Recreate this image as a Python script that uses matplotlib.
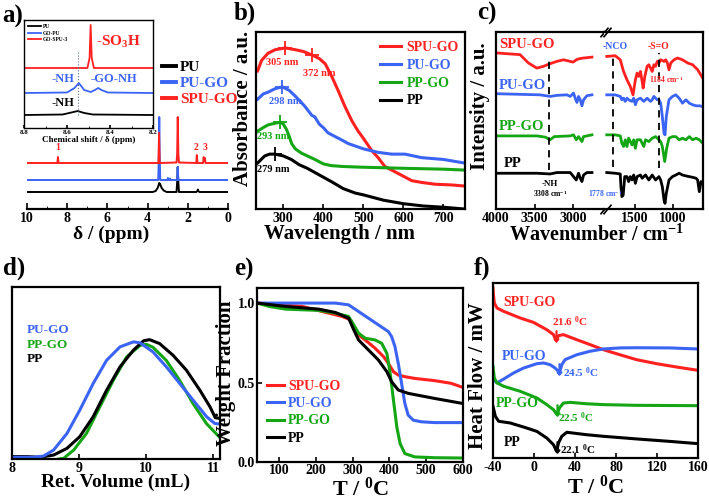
#!/usr/bin/env python3
"""
Six-panel characterisation figure: NMR, UV-vis, FTIR, GPC, TGA, DSC
Output: out.png
"""

import matplotlib
matplotlib.use("Agg")
import matplotlib.pyplot as plt

# =====================================
# Style
# =====================================
plt.rcParams['font.family'] = ['Liberation Serif', 'DejaVu Serif']
plt.rcParams['font.weight'] = 'bold'
plt.rcParams['axes.labelweight'] = 'bold'
plt.rcParams['axes.unicode_minus'] = False
plt.rcParams['mathtext.fontset'] = 'custom'
plt.rcParams['mathtext.rm'] = 'Liberation Serif:bold'
plt.rcParams['mathtext.bf'] = 'Liberation Serif:bold'
plt.rcParams['mathtext.it'] = 'Liberation Serif:bold'
plt.rcParams['mathtext.default'] = 'bf'
plt.rcParams['axes.linewidth'] = 1.6
plt.rcParams['xtick.direction'] = 'in'
plt.rcParams['ytick.direction'] = 'in'
plt.rcParams['xtick.major.width'] = 1.2
plt.rcParams['ytick.major.width'] = 1.2

RED = '#ff2020'
BLUE = '#3b64f4'
GREEN = '#14a614'
BLACK = '#000000'

# =====================================
# Data
# =====================================
# a) 1H NMR (main)
PU_PPM = [10.0, 3.75, 3.6, 3.5, 3.45, 3.42, 3.38, 3.3, 3.2, 3.05, 2.56, 2.52, 2.50, 2.48, 2.44,
          1.58, 1.52, 1.50, 1.48, 1.42, 0.0]
PU_INT = [17, 17, 18, 21, 24, 26, 25, 21, 18.5, 17, 17, 30, 42, 30, 17, 17, 18, 19.5, 18, 17, 17]
PUGO_PPM = [10.0, 3.47, 3.44, 3.42, 3.40, 3.37, 3.02, 2.99, 2.96, 2.92, 2.89, 2.86,
            2.53, 2.50, 2.47, 0.0]
PUGO_INT = [29, 29, 55, 92, 55, 29, 29, 31, 29, 29, 30.5, 29, 29, 42, 29, 29]
SPU_PPM = [10.0, 8.49, 8.46, 8.43, 3.46, 3.43, 3.40, 2.56, 2.53, 2.50, 2.47, 2.44,
           1.58, 1.55, 1.52, 1.24, 1.21, 1.18, 1.15, 1.12, 0.0]
SPU_INT = [46, 46, 52, 46, 46, 76, 46, 46.5, 55, 92, 55, 46.5, 46, 54, 46, 46, 52, 48, 51, 46, 46]
NMR_PEAK_PPM = [8.46, 1.57, 1.15]
NMR_PEAK_LBL = ['1', '2', '3']

# a) inset
IN_PU_PPM = [8.8, 8.62, 8.58, 8.55, 8.52, 8.48, 8.2]
IN_PU_INT = [13, 13.5, 15.5, 17, 15, 13.5, 13]
IN_PUGO_PPM = [8.8, 8.6, 8.565, 8.545, 8.52, 8.49, 8.47, 8.455, 8.44, 8.41, 8.2]
IN_PUGO_INT = [35, 35.5, 40, 45, 38, 36, 38, 40, 38, 35.5, 35]
IN_SPU_PPM = [8.8, 8.505, 8.495, 8.49, 8.485, 8.475, 8.2]
IN_SPU_INT = [60, 60, 70, 103, 70, 60, 60]

# b) UV-vis
UV_SPU_NM = [236, 246, 262, 280, 305, 330, 350, 372, 390, 405, 421, 437, 454, 471, 487, 500,
             521, 537, 554, 571, 596, 621, 646, 679, 720, 752]
UV_SPU_A = [0.78, 0.84, 0.88, 0.90, 0.91, 0.90, 0.89, 0.87, 0.85, 0.82, 0.75, 0.67, 0.58, 0.50,
            0.44, 0.40, 0.33, 0.29, 0.24, 0.22, 0.19, 0.16, 0.15, 0.14, 0.136, 0.13]
UV_PUGO_NM = [236, 250, 262, 280, 298, 315, 329, 346, 354, 371, 379, 390, 400, 412, 429, 446,
              462, 500, 537, 571, 604, 646, 700, 752]
UV_PUGO_A = [0.62, 0.65, 0.66, 0.68, 0.69, 0.67, 0.64, 0.60, 0.58, 0.53, 0.52, 0.48, 0.46, 0.43,
             0.41, 0.39, 0.37, 0.34, 0.32, 0.31, 0.31, 0.29, 0.28, 0.26]
UV_PPGO_NM = [236, 250, 262, 280, 293, 300, 308, 315, 321, 330, 346, 360, 379, 400, 420, 450,
              500, 600, 700, 752]
UV_PPGO_A = [0.44, 0.46, 0.475, 0.485, 0.49, 0.48, 0.45, 0.41, 0.37, 0.34, 0.315, 0.30, 0.28,
             0.255, 0.245, 0.24, 0.236, 0.23, 0.225, 0.22]
UV_PP_NM = [236, 254, 266, 279, 300, 320, 340, 360, 380, 400, 420, 450, 480, 500, 550, 600,
            650, 700, 752]
UV_PP_A = [0.26, 0.30, 0.31, 0.31, 0.30, 0.28, 0.25, 0.23, 0.205, 0.18, 0.155, 0.115, 0.09,
           0.08, 0.05, 0.03, 0.017, 0.01, 0.0]
UV_PEAKS = {'SPU-GO': [305, 372], 'PU-GO': [298], 'PP-GO': [293], 'PP': [279]}

# c) FTIR, left (4000-2600) and right (1900-610) segments
IR_SPU_L = [3970, 3688, 3580, 3471, 3385, 3298, 3211, 3125, 3000, 2951, 2908, 2865, 2756]
IR_SPU_LI = [88.1, 87.2, 82.5, 79.6, 80.6, 82.1, 83.4, 84.3, 83.0, 84.5, 85.0, 85.3, 85.8]
IR_SPU_R = [1864, 1754, 1688, 1645, 1601, 1557, 1522, 1491, 1469, 1447, 1425, 1403, 1390, 1368,
            1338, 1316, 1294, 1272, 1250, 1228, 1206, 1184, 1162, 1118, 1096, 1074, 1053, 1030,
            987, 943, 877, 811, 745, 680, 614]
IR_SPU_RI = [86.2, 86.6, 84.3, 77.7, 73.0, 69.2, 64.5, 73.0, 76.8, 74.9, 77.7, 72.1, 68.3, 74.9,
             80.6, 81.5, 79.6, 77.7, 81.5, 80.6, 83.4, 82.5, 84.3, 83.4, 84.3, 82.5, 78.7, 82.5,
             84.3, 85.3, 84.3, 82.5, 81.5, 78.7, 74.0]
IR_PUGO_L = [3970, 3430, 3298, 3211, 3081, 3038, 2995, 2973, 2951, 2930, 2908, 2886, 2865, 2821,
             2756]
IR_PUGO_LI = [65.1, 64.5, 63.6, 64.2, 64.5, 63.6, 65.5, 62.6, 60.2, 63.6, 61.7, 58.3, 61.7, 64.0,
              64.5]
IR_PUGO_R = [1864, 1754, 1688, 1667, 1645, 1623, 1601, 1579, 1535, 1513, 1491, 1469, 1425, 1382,
             1338, 1294, 1272, 1250, 1206, 1184, 1162, 1140, 1118, 1105, 1088, 1053, 1008, 964,
             921, 877, 833, 789, 745, 701, 658, 614]
IR_PUGO_RI = [64.5, 64.5, 63.6, 61.7, 62.6, 60.8, 62.6, 61.7, 60.8, 62.6, 58.9, 61.7, 62.6, 60.8,
              62.6, 60.8, 61.7, 63.6, 61.7, 61.7, 59.8, 52.3, 42.8, 41.9, 52.3, 61.7, 63.6, 64.5,
              62.6, 59.8, 61.7, 59.8, 58.9, 58.3, 58.3, 57.9]
IR_PPGO_L = [3970, 3471, 3360, 3298, 3245, 3038, 2995, 2960, 2930, 2886, 2865, 2756]
IR_PPGO_LI = [41.3, 41.3, 40.6, 39.1, 40.9, 41.3, 41.9, 39.1, 40.9, 38.1, 40.9, 41.9]
IR_PPGO_R = [1864, 1754, 1688, 1667, 1645, 1623, 1601, 1579, 1535, 1513, 1491, 1469, 1425, 1382,
             1359, 1316, 1272, 1228, 1184, 1162, 1140, 1109, 1083, 1053, 1008, 964, 921, 877, 833,
             789, 745, 701, 658, 614]
IR_PPGO_RI = [41.9, 41.9, 41.3, 37.2, 35.3, 39.1, 35.3, 40.0, 36.2, 39.1, 34.3, 39.1, 39.1, 35.3,
              39.1, 38.1, 40.0, 40.9, 39.1, 38.1, 35.3, 26.8, 34.3, 40.0, 40.9, 40.9, 39.1, 40.0,
              39.1, 40.9, 39.1, 40.0, 39.1, 37.2]
IR_PP_L = [3970, 3471, 3298, 3211, 3038, 2995, 2960, 2930, 2908, 2886, 2865, 2821, 2756]
IR_PP_LI = [20.2, 20.2, 19.8, 20.6, 20.6, 18.3, 16.4, 20.2, 17.4, 15.5, 19.2, 20.6, 20.6]
IR_PP_R = [1864, 1754, 1688, 1680, 1667, 1650, 1630, 1601, 1579, 1557, 1535, 1513, 1491, 1469,
           1425, 1403, 1359, 1316, 1272, 1228, 1184, 1162, 1140, 1118, 1105, 1088, 1053, 1008,
           964, 921, 877, 833, 789, 745, 701, 680, 658, 636, 614]
IR_PP_RI = [20.6, 20.2, 19.8, 13.0, 7.0, 7.9, 18.3, 18.3, 15.5, 18.3, 16.4, 19.2, 14.5, 18.3,
            19.2, 17.4, 19.2, 16.4, 19.2, 16.4, 18.3, 16.4, 12.6, 5.1, 3.2, 8.9, 16.4, 18.3, 19.2,
            20.2, 19.2, 18.7, 18.3, 17.9, 17.4, 16.4, 9.8, 15.5, 14.5]
IR_MARKS = [3308, 1778, 1184]

# d) GPC
GPC_PUGO_V = [8.0, 8.32, 8.47, 8.62, 8.82, 9.01, 9.21, 9.41, 9.61, 9.81, 9.91, 10.10, 10.30,
              10.50, 10.70, 10.90, 11.02, 11.10]
GPC_PUGO_S = [1.0, 1.0, 1.7, 5.2, 14.9, 28.4, 43.9, 57.4, 65.2, 68.1, 67.5, 62.3, 53.6, 43.9,
              34.2, 24.6, 20.7, 20.3]
GPC_PP_V = [8.0, 8.22, 8.42, 8.62, 8.82, 9.01, 9.21, 9.41, 9.61, 9.81, 9.96, 10.05, 10.20, 10.40,
            10.60, 10.80, 10.95, 11.03, 11.10]
GPC_PP_S = [1.4, 1.4, 1.0, 2.3, 6.2, 13.0, 24.6, 40.0, 53.6, 63.3, 68.7, 69.4, 67.1, 60.3, 51.6,
            40.0, 30.4, 24.0, 23.6]
GPC_PPGO_V = [8.7, 8.77, 8.92, 9.11, 9.31, 9.51, 9.71, 9.91, 10.00, 10.10, 10.30, 10.50, 10.70,
              10.90, 11.09]
GPC_PPGO_S = [0.0, 0.4, 5.2, 14.9, 30.4, 45.8, 59.4, 66.1, 66.7, 65.0, 57.3, 45.6, 32.1, 20.5,
              12.8]

# e) TGA
TGA_SPU_T = [41, 100, 163, 217, 271, 294, 303, 316, 334, 361, 384, 397, 411, 424, 442, 469, 523,
             568, 600]
TGA_SPU_W = [1.0, 0.989, 0.979, 0.947, 0.916, 0.895, 0.853, 0.8, 0.768, 0.716, 0.663, 0.621,
             0.568, 0.547, 0.537, 0.526, 0.512, 0.495, 0.469]
TGA_PUGO_T = [41, 253, 289, 316, 343, 370, 397, 406, 415, 424, 433, 442, 451, 465, 487, 523, 600]
TGA_PUGO_W = [1.0, 1.0, 0.989, 0.947, 0.905, 0.863, 0.821, 0.789, 0.726, 0.621, 0.495, 0.368,
              0.295, 0.263, 0.253, 0.248, 0.248]
TGA_PPGO_T = [41, 73, 118, 208, 253, 289, 303, 316, 334, 361, 379, 393, 402, 411, 420, 429, 442,
              469, 523, 600]
TGA_PPGO_W = [1.0, 0.979, 0.962, 0.954, 0.937, 0.916, 0.863, 0.811, 0.779, 0.768, 0.747, 0.684,
              0.558, 0.389, 0.221, 0.116, 0.053, 0.032, 0.027, 0.025]
TGA_PP_T = [41, 118, 208, 253, 289, 303, 316, 343, 370, 393, 406, 424, 451, 523, 600]
TGA_PP_W = [1.0, 0.979, 0.962, 0.941, 0.905, 0.832, 0.768, 0.705, 0.642, 0.568, 0.505, 0.453,
            0.432, 0.4, 0.368]

# f) DSC
DSC_SPU_T = [-40, -39.4, -38.7, -36.1, -29.6, -13.4, -0.5, 12.5, 19, 21.6, 23.9, 28.7, 41.7, 54.7,
             67.6, 83.8, 100, 119.5, 139, 160]
DSC_SPU_H = [97.1, 92.4, 88.6, 85.7, 83.8, 80, 77.5, 73.3, 70.5, 67.2, 69.9, 70.5, 67.6, 64.8,
             61.9, 59.0, 56.2, 53.9, 52, 50.1]
DSC_PUGO_T = [-40, -37.7, -36.1, -29.6, -19.9, -10.2, 2.8, 9.3, 15.8, 20.6, 23.9, 24.5, 27.1,
              30.3, 41.7, 54.7, 67.6, 83.8, 100, 132.4, 160]
DSC_PUGO_H = [45.7, 43.8, 42.9, 45.1, 48.6, 51.4, 53.9, 54.3, 53.3, 51.4, 49.5, 48.2, 53.3, 56.2,
              59, 61, 62.3, 62.9, 63, 62.9, 62.3]
DSC_PPGO_T = [-40, -38.7, -36.1, -29.6, -13.4, 2.8, 12.5, 19, 22.5, 24.8, 28.7, 35.2, 51.4, 67.6,
              100, 160]
DSC_PPGO_H = [52.4, 45.7, 42.9, 41, 38.1, 34.3, 30.5, 27.6, 24.8, 28.6, 31.4, 31.8, 31, 30.5,
              30.1, 29.9]
DSC_PP_T = [-40, -37.7, -34.5, -23.1, -6.9, 2.8, 12.5, 19, 22.1, 23.9, 27.1, 32, 51.4, 67.6, 100,
            132.4, 160]
DSC_PP_H = [29.5, 23.8, 21, 20, 17.1, 15.2, 11.4, 7.6, 3.8, 8.6, 12.4, 14.7, 13.3, 12.4, 10.9,
            9.5, 8.2]
DSC_TG = {'SPU-GO': 21.6, 'PU-GO': 24.5, 'PP-GO': 22.5, 'PP': 22.1}

# =====================================
# Figure
# =====================================
W, H = 709, 501
fig = plt.figure(figsize=(W / 100, H / 100), dpi=100)


def box(left, top, right, bottom):
    """axes from pixel edges of the reference"""
    return fig.add_axes([left / W, 1 - bottom / H, (right - left) / W, (bottom - top) / H])


LBL = 15
TCK = 10

# ---------- a) ----------
ax = box(27, 114, 228, 209)
ax.plot(PU_PPM, PU_INT, color=BLACK, lw=1.4, label='PU')
ax.plot(PUGO_PPM, PUGO_INT, color=BLUE, lw=1.4, label='PU-GO')
ax.plot(SPU_PPM, SPU_INT, color=RED, lw=1.4, label='SPU-GO')
for p, t in zip(NMR_PEAK_PPM, NMR_PEAK_LBL):
    ax.text(p, 57, t, color=RED, fontsize=7, ha='center', va='bottom')
ax.set_xlim(10, 0)
ax.set_ylim(0, 95)
for s in ['left', 'top', 'right']:
    ax.spines[s].set_visible(False)
ax.set_yticks([])
ax.set_xticks([10, 8, 6, 4, 2, 0])
ax.set_xticks([9, 7, 5, 3, 1], minor=True)
ax.tick_params(axis='x', which='major', length=4, labelsize=TCK, pad=2)
ax.tick_params(axis='x', which='minor', length=2)
ax.set_xlabel('δ / (ppm)', fontsize=14)
ax.xaxis.set_label_coords(0.42, -0.18)
leg = ax.legend(loc='upper left', bbox_to_anchor=(154 / W, 1 - 53 / H),
                bbox_transform=fig.transFigure, frameon=False, fontsize=11,
                handlelength=0.95, handletextpad=0.25, labelspacing=0.15,
                borderpad=0, labelcolor='linecolor')
for ln in leg.get_lines():
    ln.set_linewidth(2.8)

ins = box(24, 20, 153, 128)
ins.plot(IN_PU_PPM, IN_PU_INT, color=BLACK, lw=1.3, label='PU')
ins.plot(IN_PUGO_PPM, IN_PUGO_INT, color=BLUE, lw=1.3, label='GO-PU')
ins.plot(IN_SPU_PPM, IN_SPU_INT, color=RED, lw=1.3, label='GO-SPU-3')
ins.plot([8.55, 8.55], [13, 76], color='#5a6f9a', lw=0.8, ls=':')
ins.text(8.465, 86, '-SO$_3$H', color=RED, fontsize=11, ha='left', va='center')
ins.text(8.565, 49, '-NH', color=BLUE, fontsize=9, ha='right', va='center')
ins.text(8.49, 49, '-GO-NH', color=BLUE, fontsize=9, ha='left', va='center')
ins.text(8.565, 25, '-NH', color=BLACK, fontsize=9, ha='right', va='center')
ins.set_xlim(8.8, 8.2)
ins.set_ylim(0, 108)
ins.set_yticks([])
ins.set_xticks([8.8, 8.6, 8.4, 8.2])
ins.set_xticks([8.7, 8.5, 8.3], minor=True)
ins.tick_params(axis='x', which='major', length=2.5, labelsize=5, pad=1.5)
ins.tick_params(axis='x', which='minor', length=1.5)
for s in ins.spines.values():
    s.set_linewidth(1.0)
ins.set_xlabel('Chemical shift / δ (ppm)', fontsize=6.5, labelpad=1)
ins.legend(loc='upper left', frameon=False, fontsize=4, handlelength=2.2,
           handletextpad=0.4, labelspacing=0.2, borderpad=0.3)

# ---------- b) ----------
ax = box(256, 32, 465, 209)
uv = [('SPU-GO', UV_SPU_NM, UV_SPU_A, RED), ('PU-GO', UV_PUGO_NM, UV_PUGO_A, BLUE),
      ('PP-GO', UV_PPGO_NM, UV_PPGO_A, GREEN), ('PP', UV_PP_NM, UV_PP_A, BLACK)]
for name, x, y, c in uv:
    ax.plot(x, y, color=c, lw=2.2, label=name)
    for pk in UV_PEAKS[name]:
        ax.plot(pk, y[x.index(min(x, key=lambda v: abs(v - pk)))], marker='+', ms=10,
                mew=1.3, color=c)
ax.text(297, 0.83, '305 nm', color=RED, fontsize=7.5, ha='center', va='center')
ax.text(389, 0.765, '372 nm', color=RED, fontsize=7.5, ha='center', va='center')
ax.text(304, 0.61, '298 nm', color=BLUE, fontsize=7.5, ha='center', va='center')
ax.text(275, 0.41, '293 nm', color=GREEN, fontsize=7.5, ha='center', va='center')
ax.text(275, 0.225, '279 nm', color=BLACK, fontsize=7.5, ha='center', va='center')
ax.set_xlim(232, 754)
ax.set_ylim(0, 1)
ax.set_yticks([])
ax.set_xticks([300, 400, 500, 600, 700])
ax.tick_params(axis='x', length=3.5, labelsize=TCK, pad=2)
ax.set_xlabel('Wavelength / nm', fontsize=LBL)
ax.xaxis.set_label_coords(0.40, -0.085)
ax.set_ylabel('Absorbance / a.u.', fontsize=LBL)
ax.yaxis.set_label_coords(-0.014, 0.57)
ax.legend(loc='upper right', bbox_to_anchor=(0.97, 0.95), frameon=False, fontsize=10,
          handlelength=1.5, handletextpad=0.4, labelspacing=0.35, borderpad=0,
          borderaxespad=0, labelcolor='linecolor')

# ---------- c) ----------
axl = box(496, 32, 604, 209)
axr = box(604, 32, 703, 209)
ir = [(IR_SPU_L, IR_SPU_LI, IR_SPU_R, IR_SPU_RI, RED),
      (IR_PUGO_L, IR_PUGO_LI, IR_PUGO_R, IR_PUGO_RI, BLUE),
      (IR_PPGO_L, IR_PPGO_LI, IR_PPGO_R, IR_PPGO_RI, GREEN),
      (IR_PP_L, IR_PP_LI, IR_PP_R, IR_PP_RI, BLACK)]
for xl, yl, xr, yr, c in ir:
    axl.plot(xl, yl, color=c, lw=2.0)
    axr.plot(xr, yr, color=c, lw=2.0)
axl.plot([IR_MARKS[0]] * 2, [22.1, 84.3], color='k', lw=1.3, ls=(0, (4, 3)))
axr.plot([IR_MARKS[1]] * 2, [24.0, 87.2], color='k', lw=1.3, ls=(0, (4, 3)))
axr.plot([IR_MARKS[2]] * 2, [23.0, 88.1], color='k', lw=1.3, ls=(0, (4, 3)))
axl.set_xlim(4000, 2600)
axr.set_xlim(1900, 610)
for a in (axl, axr):
    a.set_ylim(0, 100)
    a.set_yticks([])
    a.tick_params(axis='x', length=3.5, labelsize=TCK, pad=2)
axl.set_xticks([4000, 3500, 3000])
axr.set_xticks([1500, 1000])
axl.spines['right'].set_visible(False)
axr.spines['left'].set_visible(False)
d = 0.6
kw = dict(marker=[(-1, -d * 2), (1, d * 2)], markersize=7, linestyle='none', color='k',
          mec='k', mew=1.2, clip_on=False)
axl.plot([1, 1], [0, 1], transform=axl.transAxes, **kw)
axr.plot([0.03, 0.03], [0, 1], transform=axr.transAxes, **kw)
axl.text(3960, 92.8, 'SPU-GO', color=RED, fontsize=10.5, ha='left', va='center')
axl.text(3960, 69.6, 'PU-GO', color=BLUE, fontsize=10.5, ha='left', va='center')
axl.text(3960, 46.6, 'PP-GO', color=GREEN, fontsize=10.5, ha='left', va='center')
axl.text(3900, 25.8, 'PP', color=BLACK, fontsize=10.5, ha='left', va='center')
axl.text(3300, 14.0, '-NH', color=BLACK, fontsize=6.5, ha='center', va='center')
axl.text(3300, 9.0, '3308 cm$^{-1}$', color=BLACK, fontsize=5.5, ha='center', va='center')
axr.text(1754, 91.9, '-NCO', color=BLUE, fontsize=7, ha='center', va='center')
axr.text(1184, 91.9, '-S=O', color=RED, fontsize=7, ha='center', va='center')
axr.text(1096, 73.0, '1184 cm$^{-1}$', color=RED, fontsize=5.5, ha='center', va='center')
axr.text(1886, 8.9, '1778 cm$^{-1}$', color=BLUE, fontsize=5.5, ha='center', va='center')
fig.text(597 / W, 1 - 225 / H, 'Wavenumber / cm$^{-1}$', fontsize=LBL - 0.5, ha='center',
         va='top')
fig.text(490 / W, 1 - 106 / H, 'Intensity / a.u.', fontsize=LBL, rotation=90, ha='right',
         va='center')

# ---------- d) ----------
ax = box(12, 287, 220, 459)
ax.plot(GPC_PPGO_V, GPC_PPGO_S, color=GREEN, lw=2.2)
ax.plot(GPC_PP_V, GPC_PP_S, color=BLACK, lw=2.2)
ax.plot(GPC_PUGO_V, GPC_PUGO_S, color=BLUE, lw=2.2)
ax.text(8.22, 74.9, 'PU-GO', color=BLUE, fontsize=9.5, ha='left', va='center')
ax.text(8.22, 66.2, 'PP-GO', color=GREEN, fontsize=9.5, ha='left', va='center')
ax.text(8.22, 58.4, 'PP', color=BLACK, fontsize=9.5, ha='left', va='center')
ax.set_xlim(8, 11.1)
ax.set_ylim(0, 100)
ax.set_yticks([])
ax.set_xticks([8, 9, 10, 11])
ax.tick_params(axis='x', length=3.5, labelsize=TCK, pad=2)
ax.set_xlabel('Ret. Volume (mL)', fontsize=LBL - 1)
ax.xaxis.set_label_coords(0.5, -0.085)

# ---------- e) ----------
ax = box(257, 288, 463, 462)
tga = [('SPU-GO', TGA_SPU_T, TGA_SPU_W, RED), ('PU-GO', TGA_PUGO_T, TGA_PUGO_W, BLUE),
       ('PP-GO', TGA_PPGO_T, TGA_PPGO_W, GREEN), ('PP', TGA_PP_T, TGA_PP_W, BLACK)]
for name, x, y, c in tga:
    ax.plot(x, y, color=c, lw=2.2, label=name)
ax.set_xlim(40, 600)
ax.set_ylim(0, 1.095)
ax.set_xticks([100, 200, 300, 400, 500, 600])
ax.set_yticks([0.0, 0.5, 1.0])
ax.set_yticklabels(['0.0', '0.5', '1.0'])
ax.tick_params(length=3.5, labelsize=TCK, pad=1.5)
ax.set_xlabel('T / $^0$C', fontsize=LBL + 1)
ax.xaxis.set_label_coords(0.5, -0.09)
ax.set_ylabel('Weight Fraction', fontsize=LBL)
ax.yaxis.set_label_coords(-0.1, 0.51)
ax.legend(loc='lower left', bbox_to_anchor=(0.05, 0.1), frameon=False, fontsize=10,
          handlelength=1.2, handletextpad=0.3, labelspacing=0.3, borderpad=0,
          borderaxespad=0, labelcolor='linecolor')

# ---------- f) ----------
ax = box(493, 283, 698, 458)
dsc = [('SPU-GO', DSC_SPU_T, DSC_SPU_H, RED), ('PU-GO', DSC_PUGO_T, DSC_PUGO_H, BLUE),
       ('PP-GO', DSC_PPGO_T, DSC_PPGO_H, GREEN), ('PP', DSC_PP_T, DSC_PP_H, BLACK)]
for name, x, y, c in dsc:
    ax.plot(x, y, color=c, lw=2.2)
    tg = DSC_TG[name]
    i = x.index(min(x, key=lambda v: abs(v - tg)))
    ax.plot(x[i], y[i] + 2.5, marker='$\\downarrow$', ms=8, color=c)
ax.text(-30.3, 88.6, 'SPU-GO', color=RED, fontsize=10, ha='left', va='center')
ax.text(17.4, 78.0, '21.6 $^0$C', color=RED, fontsize=8, ha='left', va='center')
ax.text(-31.0, 58.1, 'PU-GO', color=BLUE, fontsize=10, ha='left', va='center')
ax.text(28.7, 48.6, '24.5 $^0$C', color=BLUE, fontsize=8, ha='left', va='center')
ax.text(-36.8, 31.0, 'PP-GO', color=GREEN, fontsize=10, ha='left', va='center')
ax.text(23.9, 22.9, '22.5 $^0$C', color=GREEN, fontsize=8, ha='left', va='center')
ax.text(-29.6, 9.0, 'PP', color=BLACK, fontsize=10, ha='left', va='center')
ax.text(25.5, 4.8, '22.1 $^0$C', color=BLACK, fontsize=8, ha='left', va='center')
ax.set_xlim(-40, 160)
ax.set_ylim(0, 100)
ax.set_yticks([])
ax.set_xticks([-40, 0, 40, 80, 120, 160])
ax.tick_params(axis='x', length=3.5, labelsize=TCK, pad=2)
ax.set_xlabel('T / $^0$C', fontsize=LBL + 1)
ax.xaxis.set_label_coords(0.5, -0.1)
ax.set_ylabel('Heat Flow / mW', fontsize=LBL)
ax.yaxis.set_label_coords(-0.024, 0.47)

# ---------- panel letters ----------
for lbl, px, py in [('a)', 2, 16), ('b)', 234, 13), ('c)', 477, 13),
                    ('d)', 3, 268), ('e)', 234, 269), ('f)', 474, 268)]:
    fig.text(px / W, 1 - py / H, lbl, fontsize=18, ha='left', va='center')

fig.savefig('out.png', dpi=100)
